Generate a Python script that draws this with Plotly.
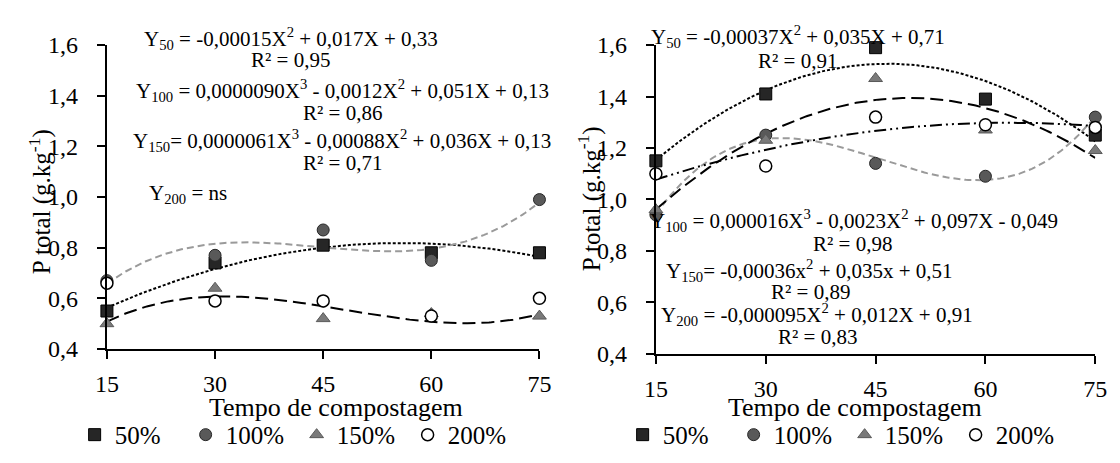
import numpy as np
import plotly.graph_objects as go

# Tempo de compostagem (dias)
dias = [15, 30, 45, 60, 75]
y_ticks = [0.4, 0.6, 0.8, 1.0, 1.2, 1.4, 1.6]
doses = ["50%", "100%", "150%", "200%"]

# Painel esquerdo - P total (g/kg)
esq_50 = [0.55, 0.74, 0.81, 0.78, 0.78]
esq_100 = [0.67, 0.77, 0.87, 0.75, 0.99]
esq_150 = [0.50, 0.64, 0.52, 0.54, 0.53]
esq_200 = [0.66, 0.59, 0.59, 0.53, 0.60]

# Painel direito - P total (g/kg)
dir_50 = [1.15, 1.41, 1.59, 1.39, 1.25]
dir_100 = [0.94, 1.25, 1.14, 1.09, 1.32]
dir_150 = [0.96, 1.23, 1.47, 1.27, 1.19]
dir_200 = [1.10, 1.13, 1.32, 1.29, 1.28]

# grau do polinomio ajustado (None = nao significativo)
grau_esq = [2, 3, 3, None]
grau_dir = [2, 3, 2, 2]

FONT = "Liberation Serif, Times New Roman, serif"
W, H = 1120, 463

# area de plotagem de cada painel (px)
ESQ = dict(x0=97, x1=539, y0=34, y1=356)
DIR = dict(x0=658, x1=1107, y0=34, y1=361)

marcadores = {
    "50%": dict(symbol="square", size=12, color="#262626", line=dict(color="#000000", width=1)),
    "100%": dict(symbol="circle", size=12, color="#595959", line=dict(color="#262626", width=1)),
    "150%": dict(symbol="triangle-up", size=12, color="#7a7a7a", line=dict(color="#595959", width=1)),
    "200%": dict(symbol="circle", size=12, color="#ffffff", line=dict(color="#000000", width=1.5)),
}
linhas = {
    "50%": dict(color="#000000", width=2, dash="3px,2px"),
    "100%": dict(color="#9a9a9a", width=2, dash="7px,4px"),
    "150%": dict(color="#000000", width=2, dash="13px,6px"),
    "200%": dict(color="#000000", width=2, dash="12px,4px,2px,4px,2px,4px"),
}

fig = go.Figure()
x_fit = np.linspace(15, 75, 181)

paineis = [
    ("x", "y", "legend", [esq_50, esq_100, esq_150, esq_200], grau_esq),
    ("x2", "y2", "legend2", [dir_50, dir_100, dir_150, dir_200], grau_dir),
]

for xa, ya, leg, series, graus in paineis:
    # curvas de regressao
    for dose, vals, g in zip(doses, series, graus):
        if g is None:
            continue
        coef = np.polyfit(dias, vals, g)
        fig.add_trace(go.Scatter(
            x=x_fit, y=np.polyval(coef, x_fit), mode="lines",
            line=linhas[dose], xaxis=xa, yaxis=ya, showlegend=False,
            hoverinfo="skip", cliponaxis=False))
    # pontos observados
    for dose, vals in zip(doses, series):
        fig.add_trace(go.Scatter(
            x=dias, y=vals, mode="markers", name=dose, marker=marcadores[dose],
            xaxis=xa, yaxis=ya, legend=leg, cliponaxis=False))

eixo_x = dict(range=[15, 75], tickvals=dias, showline=True, linecolor="#000000",
              linewidth=2, ticks="outside", ticklen=8, tickwidth=2, tickcolor="#000000",
              showgrid=False, zeroline=False, tickfont=dict(family=FONT, size=24, color="#000000"),
              ticklabelstandoff=4)
eixo_y = dict(range=[0.4, 1.6], tickvals=y_ticks, tickformat=".1f", showline=True,
              linecolor="#000000", linewidth=2, ticks="outside", ticklen=8, tickwidth=2,
              tickcolor="#000000", showgrid=False, zeroline=False,
              tickfont=dict(family=FONT, size=24, color="#000000"), ticklabelstandoff=14)

legenda = dict(orientation="h", font=dict(family=FONT, size=25, color="#000000"),
               entrywidth=66, entrywidthmode="pixels", xanchor="left", yanchor="middle",
               y=(H - 447) / H, itemwidth=30, bgcolor="rgba(0,0,0,0)", tracegroupgap=0)


def dominio(p):
    return dict(x=[p["x0"] / W, p["x1"] / W], y=[(H - p["y1"]) / H, (H - p["y0"]) / H])


dE, dD = dominio(ESQ), dominio(DIR)

fig.update_layout(
    width=W, height=H, margin=dict(l=0, r=0, t=0, b=0),
    paper_bgcolor="#ffffff", plot_bgcolor="#ffffff", separators=",.",
    font=dict(family=FONT, color="#000000"),
    showlegend=True,
    xaxis=dict(eixo_x, domain=dE["x"], anchor="y"),
    yaxis=dict(eixo_y, domain=dE["y"], anchor="x"),
    xaxis2=dict(eixo_x, domain=dD["x"], anchor="y2"),
    yaxis2=dict(eixo_y, domain=dD["y"], anchor="x2"),
    legend=dict(legenda, x=(ESQ["x0"] + 7 - 40) / W),
    legend2=dict(legenda, x=(DIR["x0"] + 6 - 40) / W),
)


def papel_y(dom, v):
    """Converte um valor de P total em coordenada de papel do painel."""
    return dom["y"][0] + (v - 0.4) / 1.2 * (dom["y"][1] - dom["y"][0])


eq_font = dict(family=FONT, size=21, color="#000000")
equacoes = [
    ("x", dE, 40.5, 1.626, "Y<sub>50</sub> = -0,00015X<sup>2</sup> + 0,017X + 0,33"),
    ("x", dE, 40.5, 1.540, "R² = 0,95"),
    ("x", dE, 47.7, 1.422, "Y<sub>100</sub> = 0,0000090X<sup>3</sup> - 0,0012X<sup>2</sup> + 0,051X + 0,13"),
    ("x", dE, 47.7, 1.332, "R² = 0,86"),
    ("x", dE, 47.6, 1.225, "Y<sub>150</sub>= 0,0000061X<sup>3</sup> - 0,00088X<sup>2</sup> + 0,036X + 0,13"),
    ("x", dE, 47.7, 1.135, "R² = 0,71"),
    ("x", dE, 26.2, 1.011, "Y<sub>200</sub> = ns"),
    ("x2", dD, 34.4, 1.632, "Y<sub>50</sub> = -0,00037X<sup>2</sup> + 0,035X + 0,71"),
    ("x2", dD, 34.4, 1.540, "R² = 0,91"),
    ("x2", dD, 42.0, 0.918, "Y<sub>100</sub> = 0,000016X<sup>3</sup> - 0,0023X<sup>2</sup> + 0,097X - 0,049"),
    ("x2", dD, 41.9, 0.828, "R² = 0,98"),
    ("x2", dD, 36.0, 0.724, "Y<sub>150</sub>= -0,00036x<sup>2</sup> + 0,035x + 0,51"),
    ("x2", dD, 36.1, 0.641, "R² = 0,89"),
    ("x2", dD, 37.0, 0.554, "Y<sub>200</sub> = -0,000095X<sup>2</sup> + 0,012X + 0,91"),
    ("x2", dD, 37.0, 0.465, "R² = 0,83"),
]
for xr, dom, xv, yv, txt in equacoes:
    fig.add_annotation(x=xv, y=papel_y(dom, yv), xref=xr, yref="paper", text=txt,
                       showarrow=False, font=eq_font, xanchor="center", yanchor="middle")

titulo_font = dict(family=FONT, size=26, color="#000000")
# titulos dos eixos
for xr, xv in (("x", 46.8), ("x2", 42.2)):
    fig.add_annotation(x=xv, xref=xr, y=(H - 418) / H, yref="paper",
                       text="Tempo de compostagem", showarrow=False, font=titulo_font,
                       xanchor="center", yanchor="middle")
for xp, yp in ((29, 200), (591, 197)):
    fig.add_annotation(x=xp / W, y=(H - yp) / H, xref="paper", yref="paper",
                       text="P total (g.kg<sup>-1</sup>)", showarrow=False,
                       font=dict(titulo_font, size=25),
                       textangle=-90, xanchor="center", yanchor="middle")

fig.write_html("out.html")
